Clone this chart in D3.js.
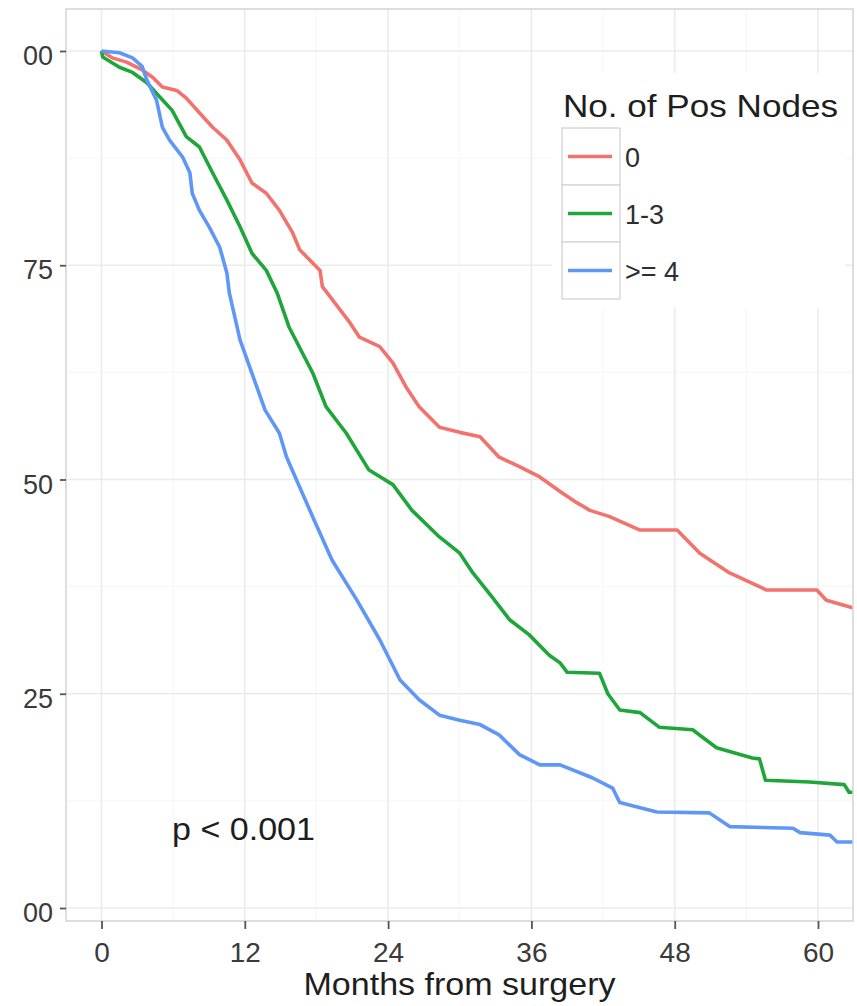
<!DOCTYPE html>
<html>
<head>
<meta charset="utf-8">
<script src="https://cdn.jsdelivr.net/npm/d3@7"></script>
<style>
  body { margin: 0; background: #fff; }
  text { font-family: "Liberation Sans", Arial, sans-serif; }
</style>
</head>
<body>
<svg id="km" width="857" height="1006"></svg>
<script>
// Data: [months, % surviving]
var groups = ["0", "1-3", ">= 4"];
var colors = ["#f2736d", "#1fa63a", "#5f97f6"];

var nodes0 = [[0,100],[0.9,99.2],[2.1,98.7],[3.4,97.8],[4.3,96.9],[5.1,95.8],[6.3,95.4],[7.1,94.5],
  [8.2,92.8],[9.3,91.1],[10.5,89.6],[11.6,87.3],[12.6,84.6],[13.8,83.4],[14.9,81.4],[16,78.8],
  [16.6,76.8],[18.3,74.4],[18.5,72.5],[20.8,68.3],[21.6,66.6],[23.3,65.5],[24.4,63.6],[25.5,60.8],
  [26.6,58.5],[28.3,56.1],[30,55.5],[31.7,55.0],[33.3,52.6],[35,51.5],[36.7,50.3],[38.4,48.6],
  [39.8,47.3],[40.9,46.4],[42.5,45.7],[45.1,44.1],[48.2,44.1],[50.1,41.4],[52.6,39.1],[55.7,37.1],
  [59.9,37.1],[60.7,35.9],[63,35.0]];

var nodes13 = [[0,100],[0.1,99.3],[1.5,98.1],[2.6,97.5],[3.8,96.3],[4.9,94.6],[5.9,93.1],[7.1,90.0],
  [8.2,88.8],[9.3,85.8],[10.5,82.6],[11.6,79.5],[12.6,76.4],[13.8,74.4],[14.7,71.8],[15.7,67.8],
  [17.7,62.4],[18.8,58.5],[20.5,55.4],[22.4,51.1],[24.4,49.4],[26,46.4],[28.3,43.3],[30,41.4],
  [31.1,39.1],[32.7,36.3],[34.2,33.6],[35.8,31.9],[37.5,29.5],[38.4,28.6],[39,27.5],[41.7,27.4],
  [42.4,25.0],[43.4,23.1],[45.1,22.8],[46.7,21.1],[49.5,20.8],[51.5,18.7],[54.5,17.5],[55.1,17.4],
  [55.6,14.9],[59.3,14.7],[62.2,14.4],[62.6,13.5],[63,13.5]];

var nodes4 = [[0,100],[1.5,99.8],[2.6,99.2],[3.4,98.2],[3.8,96.6],[4.6,94.3],[5.1,91.1],[5.7,89.6],
  [6.8,87.6],[7.4,85.8],[7.6,83.4],[8.2,81.4],[9.0,79.5],[9.9,77.1],[10.5,74.1],[10.7,71.8],
  [11.6,66.3],[12.8,61.6],[13.7,58.1],[14.9,55.4],[15.5,52.6],[17.7,45.6],[19.3,40.6],[21.4,35.9],
  [23.3,31.3],[25,26.6],[26.6,24.3],[28.3,22.5],[30,21.9],[31.7,21.4],[33.3,20.2],[35,17.9],
  [36.7,16.7],[38.4,16.7],[41.1,15.2],[42.8,14.0],[43.4,12.3],[46.5,11.2],[50.9,11.1],[52.6,9.5],
  [57.9,9.3],[58.5,8.8],[61,8.5],[61.6,7.7],[63,7.7]];

var series = [nodes0, nodes13, nodes4];

var xTicks = [0, 12, 24, 36, 48, 60];
var xMinor = [6, 18, 30, 42, 54];
var yTicks = [0, 25, 50, 75, 100];
var yTickLabels = ["00", "25", "50", "75", "00"];
var yMinor = [12.5, 37.5, 62.5, 87.5];

var svg = d3.select("#km");

// panel box in px
var pLeft = 66, pRight = 853, pTop = 9, pBottom = 921;

var x = d3.scaleLinear().domain([0, 60]).range([101.5, 818]);
var y = d3.scaleLinear().domain([0, 100]).range([908, 51]);

// clip for curves
svg.append("clipPath").attr("id", "panel")
  .append("rect")
    .attr("x", pLeft).attr("y", pTop)
    .attr("width", pRight - pLeft).attr("height", pBottom - pTop);

// minor grid
svg.append("g").selectAll("line")
  .data(xMinor).enter().append("line")
    .attr("x1", d => x(d)).attr("x2", d => x(d))
    .attr("y1", pTop).attr("y2", pBottom)
    .attr("stroke", "#f6f6f6").attr("stroke-width", 1);
svg.append("g").selectAll("line")
  .data(yMinor).enter().append("line")
    .attr("x1", pLeft).attr("x2", pRight)
    .attr("y1", d => y(d)).attr("y2", d => y(d))
    .attr("stroke", "#f6f6f6").attr("stroke-width", 1);

// major grid
svg.append("g").selectAll("line")
  .data(xTicks).enter().append("line")
    .attr("x1", d => x(d)).attr("x2", d => x(d))
    .attr("y1", pTop).attr("y2", pBottom)
    .attr("stroke", "#ebebeb").attr("stroke-width", 1.6);
svg.append("g").selectAll("line")
  .data(yTicks).enter().append("line")
    .attr("x1", pLeft).attr("x2", pRight)
    .attr("y1", d => y(d)).attr("y2", d => y(d))
    .attr("stroke", "#ebebeb").attr("stroke-width", 1.6);

// curves
var line = d3.line()
  .x(d => x(d[0]))
  .y(d => y(d[1]));

svg.append("g").attr("clip-path", "url(#panel)")
  .selectAll("path")
  .data(series).enter().append("path")
    .attr("d", line)
    .attr("fill", "none")
    .attr("stroke", (d, i) => colors[i])
    .attr("stroke-width", 3.6)
    .attr("stroke-linejoin", "round");

// panel border
svg.append("rect")
  .attr("x", pLeft).attr("y", pTop)
  .attr("width", pRight - pLeft).attr("height", pBottom - pTop)
  .attr("fill", "none").attr("stroke", "#d6d6d6").attr("stroke-width", 1.6);

// y axis
var yAxis = svg.append("g")
  .attr("transform", "translate(" + pLeft + ",0)")
  .call(d3.axisLeft(y).tickValues(yTicks).tickSize(6).tickPadding(7)
    .tickFormat((d, i) => yTickLabels[i]));
yAxis.select(".domain").remove();
yAxis.selectAll("line").attr("stroke", "#555").attr("stroke-width", 1.8);
yAxis.selectAll("text")
  .attr("font-size", 27).attr("fill", "#3a3a3a").attr("dy", "0.5em")
  .style("font-family", "Liberation Sans, Arial, sans-serif");

// x axis
var xAxis = svg.append("g")
  .attr("transform", "translate(0," + pBottom + ")")
  .call(d3.axisBottom(x).tickValues(xTicks).tickSize(8).tickPadding(13));
xAxis.select(".domain").remove();
xAxis.selectAll("line").attr("stroke", "#555").attr("stroke-width", 1.8);
xAxis.selectAll("text")
  .attr("font-size", 28).attr("fill", "#3a3a3a")
  .style("font-family", "Liberation Sans, Arial, sans-serif");

// axis title
svg.append("text")
  .attr("x", (pLeft + pRight) / 2)
  .attr("y", 995)
  .attr("text-anchor", "middle")
  .attr("font-size", 32)
  .attr("textLength", 312)
  .attr("lengthAdjust", "spacingAndGlyphs")
  .attr("fill", "#1e1e1e")
  .text("Months from surgery");

// p value
svg.append("text")
  .attr("x", 172)
  .attr("y", 840)
  .attr("font-size", 32)
  .attr("textLength", 143)
  .attr("lengthAdjust", "spacingAndGlyphs")
  .attr("fill", "#1e1e1e")
  .text("p < 0.001");

// legend
var legend = svg.append("g");
legend.append("rect")
  .attr("x", 552).attr("y", 73).attr("width", 293).attr("height", 235)
  .attr("fill", "#fff");
legend.append("text")
  .attr("x", 563).attr("y", 117)
  .attr("font-size", 32)
  .attr("textLength", 275)
  .attr("lengthAdjust", "spacingAndGlyphs")
  .attr("fill", "#1e1e1e")
  .text("No. of Pos Nodes");

var keys = legend.selectAll(".key")
  .data(groups).enter().append("g")
    .attr("class", "key")
    .attr("transform", (d, i) => "translate(562," + (128 + i * 57) + ")");
keys.append("rect")
  .attr("width", 58).attr("height", 57)
  .attr("fill", "#fff").attr("stroke", "#d9d9d9").attr("stroke-width", 1.5);
keys.append("line")
  .attr("x1", 6).attr("x2", 50)
  .attr("y1", 28.5).attr("y2", 28.5)
  .attr("stroke", (d, i) => colors[i])
  .attr("stroke-width", 3.5);
keys.append("text")
  .attr("x", 63).attr("y", 28.5).attr("dy", "0.38em")
  .attr("font-size", 27).attr("fill", "#2e2e2e")
  .text(d => d);
</script>
</body>
</html>
